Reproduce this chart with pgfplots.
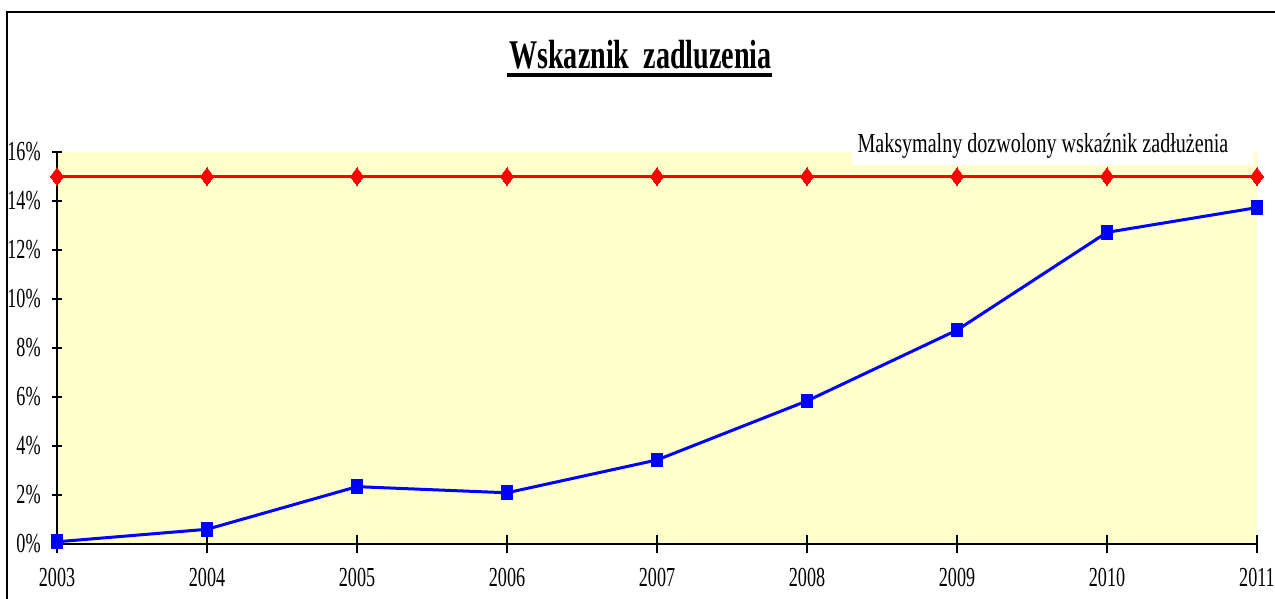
\documentclass[border=0pt]{standalone}
\usepackage{fontspec}
\setmainfont[FakeStretch=0.66]{Liberation Serif}
\newfontfamily\annfont[FakeStretch=0.73]{Liberation Serif}
\newfontfamily\titlefont[FakeStretch=0.69]{Liberation Serif}
\usepackage{pgfplots}
\pgfplotsset{compat=1.18}
\definecolor{bgyellow}{RGB}{255,255,204}
\begin{document}
\begin{tikzpicture}
\useasboundingbox (-22.8pt,-22pt) rectangle (487.2pt,217.6pt);
\begin{axis}[
  at={(0,0)}, anchor=south west,
  scale only axis, width=480pt, height=156.8pt,
  xmin=2003, xmax=2011, ymin=0, ymax=16,
  axis x line*=bottom, axis y line*=left,
  axis line style={line width=0.5pt, black},
  axis background/.style={fill=bgyellow},
  xtick={2003,2004,2005,2006,2007,2008,2009,2010,2011},
  xticklabels={2003,2004,2005,2006,2007,2008,2009,2010,2011},
  ytick={0,2,4,6,8,10,12,14,16},
  yticklabel={\pgfmathprintnumber{\tick}\%},
  tick align=center,
  major tick length=4pt,
  xtick style={/pgfplots/major tick length=7.2pt},
  tick style={black, line width=0.5pt},
  /pgf/number format/assume math mode=true,
  ticklabel style={font=\fontsize{11}{12}\selectfont},
  yticklabel style={xshift=-1pt},
  xticklabel style={yshift=-4pt},
  clip=false,
]
\addplot[color=red, line width=1.2pt, mark=diamond*, mark size=3.5pt, mark options={fill=red, draw=red, line width=0pt}]
coordinates {(2003,15) (2004,15) (2005,15) (2006,15) (2007,15) (2008,15) (2009,15) (2010,15) (2011,15)};
\addplot[color=blue, line width=1.2pt, mark=square*, mark size=2.1pt, mark options={fill=blue, draw=blue, line width=0pt, yscale=1.3}]
coordinates {(2003,0.09) (2004,0.6) (2005,2.34) (2006,2.09) (2007,3.43) (2008,5.84) (2009,8.73) (2010,12.72) (2011,13.73)};
\end{axis}
% frame
\draw[line width=0.8pt] (-20pt,-40pt) -- (-20pt,212.8pt) -- (520pt,212.8pt);
% title
\node[anchor=base, inner sep=0pt, font=\fontsize{16.3}{18}\titlefont\bfseries] at (233.4pt,190pt) {Wskaznik\ \ zadluzenia};
\draw[line width=1.6pt] (180pt,187.6pt) -- (286pt,187.6pt);
% annotation
\fill[white] (318pt,151.6pt) rectangle (478.4pt,168pt);
\node[anchor=base west, inner sep=0pt, font=\fontsize{11}{12}\annfont] at (320pt,156.4pt) {Maksymalny dozwolony wskaźnik zadłużenia};
\end{tikzpicture}
\end{document}
